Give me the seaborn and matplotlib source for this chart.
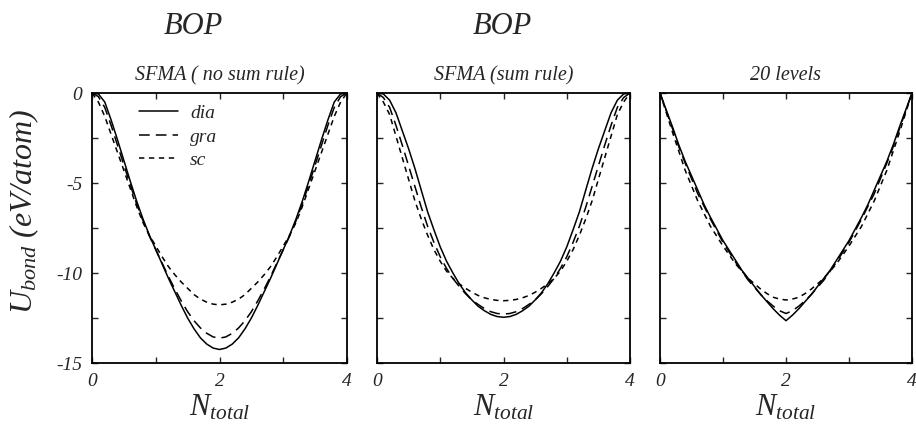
import matplotlib
matplotlib.use("Agg")
import matplotlib.pyplot as plt
import numpy as np
import pandas as pd
import seaborn as sns

# ---------------- data ----------------
N_total = [0.0, 0.1, 0.2, 0.3, 0.4, 0.5, 0.6, 0.7, 0.8, 0.9, 1.0,
           1.1, 1.2, 1.3, 1.4, 1.5, 1.6, 1.7, 1.8, 1.9, 2.0,
           2.1, 2.2, 2.3, 2.4, 2.5, 2.6, 2.7, 2.8, 2.9, 3.0,
           3.1, 3.2, 3.3, 3.4, 3.5, 3.6, 3.7, 3.8, 3.9, 4.0]

structures = ["dia", "gra", "sc"]
panel_titles = ["SFMA ( no sum rule)", "SFMA (sum rule)", "20 levels"]
top_titles = ["BOP", "BOP"]

# SFMA (no sum rule)
dia_nosum = [0, -0.05, -0.5, -1.5, -2.6, -3.75, -4.9, -6.0, -7.0, -7.9, -8.7,
             -9.5, -10.3, -11.05, -11.8, -12.5, -13.1, -13.6, -13.95, -14.17, -14.25,
             -14.17, -13.95, -13.6, -13.1, -12.5, -11.8, -11.05, -10.3, -9.5, -8.7,
             -7.9, -7.0, -6.0, -4.9, -3.75, -2.6, -1.5, -0.5, -0.05, 0]
gra_nosum = [0, -0.2, -0.8, -1.8, -2.9, -4.0, -5.1, -6.15, -7.1, -7.95, -8.7,
             -9.45, -10.2, -10.9, -11.55, -12.15, -12.65, -13.05, -13.35, -13.55, -13.62,
             -13.55, -13.35, -13.05, -12.65, -12.15, -11.55, -10.9, -10.2, -9.45, -8.7,
             -7.95, -7.1, -6.15, -5.1, -4.0, -2.9, -1.8, -0.8, -0.2, 0]
sc_nosum = [0, -0.5, -1.3, -2.3, -3.3, -4.3, -5.3, -6.3, -7.2, -7.9, -8.5,
            -9.1, -9.65, -10.1, -10.5, -10.85, -11.2, -11.45, -11.62, -11.73, -11.77,
            -11.73, -11.62, -11.45, -11.2, -10.85, -10.5, -10.1, -9.65, -9.1, -8.5,
            -7.9, -7.2, -6.3, -5.3, -4.3, -3.3, -2.3, -1.3, -0.5, 0]

# SFMA (sum rule)
dia_sum = [0, -0.05, -0.4, -1.1, -2.1, -3.1, -4.2, -5.4, -6.6, -7.6, -8.55,
           -9.35, -10.0, -10.6, -11.1, -11.5, -11.85, -12.1, -12.3, -12.42, -12.46,
           -12.42, -12.3, -12.1, -11.85, -11.5, -11.1, -10.6, -10.0, -9.35, -8.55,
           -7.6, -6.6, -5.4, -4.2, -3.1, -2.1, -1.1, -0.4, -0.05, 0]
gra_sum = [0, -0.25, -0.8, -1.8, -2.9, -4.05, -5.2, -6.35, -7.4, -8.3, -9.1,
           -9.75, -10.3, -10.75, -11.15, -11.5, -11.75, -11.98, -12.15, -12.25, -12.28,
           -12.25, -12.15, -11.98, -11.75, -11.5, -11.15, -10.75, -10.3, -9.75, -9.1,
           -8.3, -7.4, -6.35, -5.2, -4.05, -2.9, -1.8, -0.8, -0.25, 0]
sc_sum = [0, -0.5, -1.2, -2.4, -3.6, -4.8, -6.0, -7.0, -7.9, -8.7, -9.35,
          -9.9, -10.3, -10.6, -10.85, -11.07, -11.25, -11.38, -11.47, -11.52, -11.54,
          -11.52, -11.47, -11.38, -11.25, -11.07, -10.85, -10.6, -10.3, -9.9, -9.35,
          -8.7, -7.9, -7.0, -6.0, -4.8, -3.6, -2.4, -1.2, -0.5, 0]

# 20 levels
dia_20 = [0, -0.95, -1.9, -2.9, -3.8, -4.6, -5.4, -6.2, -6.9, -7.55, -8.2,
          -8.75, -9.3, -9.85, -10.3, -10.75, -11.2, -11.6, -12.0, -12.35, -12.65,
          -12.35, -12.0, -11.6, -11.2, -10.75, -10.3, -9.85, -9.3, -8.75, -8.2,
          -7.55, -6.9, -6.2, -5.4, -4.6, -3.8, -2.9, -1.9, -0.95, 0]
gra_20 = [0, -1.0, -2.0, -3.0, -3.9, -4.75, -5.6, -6.3, -7.0, -7.65, -8.3,
          -8.85, -9.4, -9.9, -10.4, -10.8, -11.2, -11.55, -11.85, -12.1, -12.25,
          -12.1, -11.85, -11.55, -11.2, -10.8, -10.4, -9.9, -9.4, -8.85, -8.3,
          -7.65, -7.0, -6.3, -5.6, -4.75, -3.9, -3.0, -2.0, -1.0, 0]
sc_20 = [0, -1.1, -2.2, -3.25, -4.3, -5.15, -6.0, -6.7, -7.4, -7.95, -8.5,
         -9.0, -9.5, -9.9, -10.3, -10.6, -10.9, -11.15, -11.35, -11.45, -11.5,
         -11.45, -11.35, -11.15, -10.9, -10.6, -10.3, -9.9, -9.5, -9.0, -8.5,
         -7.95, -7.4, -6.7, -6.0, -5.15, -4.3, -3.25, -2.2, -1.1, 0]

panels = [
    {"dia": dia_nosum, "gra": gra_nosum, "sc": sc_nosum},
    {"dia": dia_sum, "gra": gra_sum, "sc": sc_sum},
    {"dia": dia_20, "gra": gra_20, "sc": sc_20},
]

x_ticks = [0, 1, 2, 3, 4]
x_ticklabels = ["0", "", "2", "", "4"]
y_ticks = [-15, -12.5, -10, -7.5, -5, -2.5, 0]
y_ticklabels = ["-15", "", "-10", "", "-5", "", "0"]

# ---------------- style ----------------
sns.set_style("ticks")
plt.rcParams["font.family"] = ["Liberation Serif", "DejaVu Serif"]
plt.rcParams["font.style"] = "italic"
plt.rcParams["mathtext.fontset"] = "custom"
plt.rcParams["mathtext.it"] = "Liberation Serif:italic"
plt.rcParams["mathtext.rm"] = "Liberation Serif:italic"
plt.rcParams["mathtext.default"] = "it"

fig = plt.figure(figsize=(9.16, 4.24), dpi=100)
W, H = 916, 424
boxes = [(92, 347), (377, 630), (660, 912)]
top_px, bot_px = 93, 363

dashes = {"dia": "", "gra": (7, 4), "sc": (3.5, 3)}

axes = []
for i, (l, r) in enumerate(boxes):
    ax = fig.add_axes([l / W, 1 - bot_px / H, (r - l) / W, (bot_px - top_px) / H])
    axes.append(ax)
    rows = []
    for s in structures:
        for xv, yv in zip(N_total, panels[i][s]):
            rows.append({"N": xv, "U": yv, "structure": s})
    df = pd.DataFrame(rows)
    sns.lineplot(data=df, x="N", y="U", style="structure", dashes=dashes,
                 color="black", linewidth=1.1, ax=ax, legend=(i == 0),
                 estimator=None, sort=False)
    ax.set_xlim(0, 4)
    ax.set_ylim(-15, 0)
    ax.set_xticks(x_ticks)
    ax.set_xticklabels(x_ticklabels)
    ax.set_yticks(y_ticks)
    if i == 0:
        ax.set_yticklabels(y_ticklabels)
        ax.set_ylabel(r"$U_{bond}\ (eV/atom)$", fontsize=23)
        ax.yaxis.set_label_coords(-0.20, 0.56)
    else:
        ax.set_yticklabels([])
        ax.set_ylabel("")
    ax.set_xlabel(r"$N_{total}$", fontsize=22, labelpad=2)
    ax.tick_params(direction="in", top=True, right=True, length=4, width=1,
                   labelsize=14, pad=7)
    for sp in ax.spines.values():
        sp.set_linewidth(1.3)
        sp.set_color("black")
    ax.set_title(panel_titles[i], fontsize=14.5, pad=9)

sns.move_legend(axes[0], "upper left", bbox_to_anchor=(0.14, 1.0),
                frameon=False, title=None, fontsize=14, handlelength=2.0,
                labelspacing=0.3, handletextpad=0.6, borderaxespad=0.2)

fig.text(193 / W, 1 - 27 / H, top_titles[0], fontsize=22, ha="center", va="center")
fig.text(502 / W, 1 - 27 / H, top_titles[1], fontsize=22, ha="center", va="center")

fig.savefig("out.png", dpi=100)
